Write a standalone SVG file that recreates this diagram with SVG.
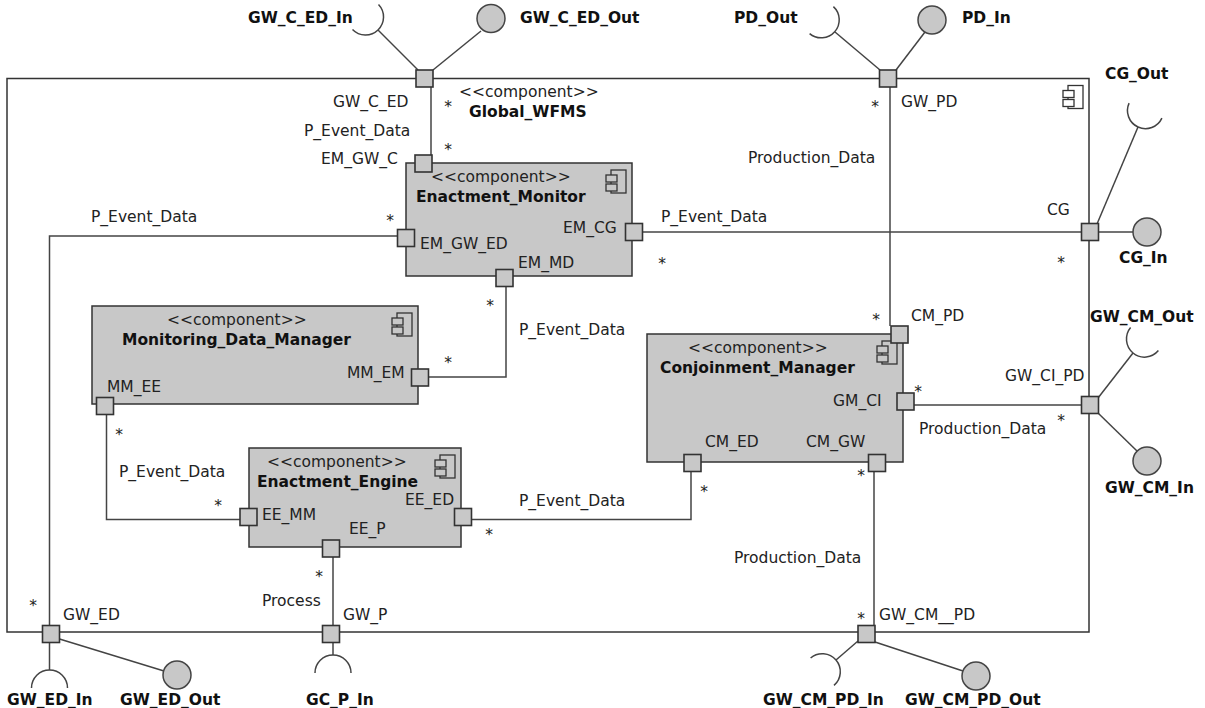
<svg xmlns="http://www.w3.org/2000/svg" width="1205" height="708" viewBox="0 0 1205 708">
<style>
text{font-family:"DejaVu Sans","Liberation Sans",sans-serif;font-size:15.5px;fill:#222}
.b{font-weight:bold;fill:#111}
.m{text-anchor:middle}
.box{fill:#c8c8c8;stroke:#333;stroke-width:1.5}
.outer{fill:#fff;stroke:#333;stroke-width:1.5}
.port{fill:#c8c8c8;stroke:#333;stroke-width:1.6}
.ln{fill:none;stroke:#444;stroke-width:1.5}
.ball{fill:#c8c8c8;stroke:#444;stroke-width:1.5}
.ic{fill:#c8c8c8;stroke:#333;stroke-width:1.3}
.icw{fill:#fff;stroke:#333;stroke-width:1.3}
</style>
<defs>
<g id="icon"><rect x="5" y="0" width="15" height="23"/><rect x="0" y="5" width="11" height="7"/><rect x="0" y="14" width="11" height="7"/></g>
</defs>

<g id="Global_WFMS">
<rect class="outer" x="7" y="78.5" width="1082" height="553.5"/>
<use href="#icon" class="icw" x="1063" y="85.5"/>
<text x="459" y="97">&lt;&lt;component&gt;&gt;</text>
<text class="b" x="469" y="117">Global_WFMS</text>
</g>

<g id="connectors">
<path class="ln" d="M431,87 V155"/>
<path class="ln" d="M890,87 V326"/>
<path class="ln" d="M642,232 H1081.5"/>
<path class="ln" d="M397.5,236 H49.5 V625.5"/>
<path class="ln" d="M506,287 V377 H429"/>
<path class="ln" d="M106.5,414.5 V519.5 H240"/>
<path class="ln" d="M471.5,519.5 H691 V471.5"/>
<path class="ln" d="M333,557 V625.5"/>
<path class="ln" d="M914,405 H1081.5"/>
<path class="ln" d="M874,471.5 V625.5"/>
<path class="ln" d="M418,70 L378,30"/>
<path class="ln" d="M378.5,4.5 A18,18 0 0 1 352.5,29.5"/>
<path class="ln" d="M433,70 L481,31"/>
<path class="ln" d="M880,70 L835,32"/>
<path class="ln" d="M833.4,6.6 A18,18 0 0 1 809.6,33.6"/>
<path class="ln" d="M896,70 L925,32"/>
<path class="ln" d="M1097,224 L1138,127"/>
<path class="ln" d="M1161.9,118.1 A18,18 0 0 1 1129.1,103.1"/>
<path class="ln" d="M1098.5,232 H1133"/>
<path class="ln" d="M1098,398 L1133,353"/>
<path class="ln" d="M1158.4,350.6 A18,18 0 0 1 1130.6,327.6"/>
<path class="ln" d="M1098,413 L1137,451"/>
<path class="ln" d="M49.5,642.5 V670"/>
<path class="ln" d="M67.5,688 A18,18 0 0 0 31.5,688"/>
<path class="ln" d="M59.5,639 L164,671"/>
<path class="ln" d="M333,642.5 V655"/>
<path class="ln" d="M351,673 A18,18 0 0 0 315,673"/>
<path class="ln" d="M858,641 L836,660"/>
<path class="ln" d="M810.6,658 A18,18 0 0 1 834,685.4"/>
<path class="ln" d="M875,642 L963,671"/>
</g>

<g id="Enactment_Monitor">
<rect class="box" x="406" y="163" width="226" height="113"/>
<use href="#icon" class="ic" x="606" y="170"/>
<text x="431" y="182">&lt;&lt;component&gt;&gt;</text>
<text class="b" x="416" y="202">Enactment_Monitor</text>
<rect class="port" x="415" y="155" width="17" height="17"/>
<rect class="port" x="625.5" y="223.5" width="17" height="17"/>
<rect class="port" x="397.5" y="229.5" width="17" height="17"/>
<rect class="port" x="496" y="269.5" width="17" height="17"/>
<text x="563" y="233">EM_CG</text>
<text x="420" y="249">EM_GW_ED</text>
<text x="518" y="268">EM_MD</text>
</g>

<g id="Monitoring_Data_Manager">
<rect class="box" x="92" y="306" width="326" height="98"/>
<use href="#icon" class="ic" x="392" y="313"/>
<text x="167" y="325">&lt;&lt;component&gt;&gt;</text>
<text class="b" x="122" y="345">Monitoring_Data_Manager</text>
<rect class="port" x="96.5" y="397.5" width="17" height="17"/>
<rect class="port" x="411.5" y="369" width="17" height="17"/>
<text x="347" y="378">MM_EM</text>
<text x="107" y="392">MM_EE</text>
</g>

<g id="Enactment_Engine">
<rect class="box" x="249" y="448" width="212" height="99"/>
<use href="#icon" class="ic" x="435" y="455"/>
<text x="267" y="467">&lt;&lt;component&gt;&gt;</text>
<text class="b" x="257" y="487">Enactment_Engine</text>
<rect class="port" x="240" y="508.5" width="17" height="17"/>
<rect class="port" x="454.5" y="508.5" width="17" height="17"/>
<rect class="port" x="322.5" y="540" width="17" height="17"/>
<text x="262" y="520">EE_MM</text>
<text x="405" y="505">EE_ED</text>
<text x="349" y="534">EE_P</text>
</g>

<g id="Conjoinment_Manager">
<rect class="box" x="647" y="334" width="256" height="128"/>
<use href="#icon" class="ic" x="877" y="341"/>
<text x="688" y="353">&lt;&lt;component&gt;&gt;</text>
<text class="b" x="660" y="373">Conjoinment_Manager</text>
<rect class="port" x="891" y="326" width="17" height="17"/>
<rect class="port" x="897" y="393" width="17" height="17"/>
<rect class="port" x="684" y="454.5" width="17" height="17"/>
<rect class="port" x="868.5" y="454.5" width="17" height="17"/>
<text x="833" y="406">GM_CI</text>
<text x="705" y="447">CM_ED</text>
<text x="806" y="447">CM_GW</text>
<text x="911" y="321">CM_PD</text>
</g>

<g id="boundary_ports">
<rect class="port" x="416" y="70" width="17" height="17"/>
<rect class="port" x="879.5" y="70" width="17" height="17"/>
<rect class="port" x="1081.5" y="223.5" width="17" height="17"/>
<rect class="port" x="1081.5" y="396.5" width="17" height="17"/>
<rect class="port" x="42.5" y="625.5" width="17" height="17"/>
<rect class="port" x="322.5" y="625.5" width="17" height="17"/>
<rect class="port" x="858" y="625.5" width="17" height="17"/>
<text x="333" y="107">GW_C_ED</text>
<text x="901" y="107">GW_PD</text>
<text x="1047" y="215">CG</text>
<text x="1005" y="381">GW_CI_PD</text>
<text x="63" y="620">GW_ED</text>
<text x="343" y="620">GW_P</text>
<text x="879" y="620">GW_CM__PD</text>
</g>

<g id="interfaces">
<circle class="ball" cx="491" cy="18.5" r="14"/>
<circle class="ball" cx="932" cy="20" r="14"/>
<circle class="ball" cx="1147" cy="232" r="14"/>
<circle class="ball" cx="1147" cy="461" r="14"/>
<circle class="ball" cx="177" cy="675" r="14"/>
<circle class="ball" cx="976" cy="676" r="14"/>
<text class="b" x="248" y="23">GW_C_ED_In</text>
<text class="b" x="520" y="23">GW_C_ED_Out</text>
<text class="b" x="734" y="23">PD_Out</text>
<text class="b" x="962" y="23">PD_In</text>
<text class="b" x="1105" y="79">CG_Out</text>
<text class="b" x="1119" y="263">CG_In</text>
<text class="b" x="1090" y="322">GW_CM_Out</text>
<text class="b" x="1105" y="493">GW_CM_In</text>
<text class="b" x="7" y="704.5">GW_ED_In</text>
<text class="b" x="120" y="704.5">GW_ED_Out</text>
<text class="b" x="306" y="704.5">GC_P_In</text>
<text class="b" x="763" y="704.5">GW_CM_PD_In</text>
<text class="b" x="905" y="704.5">GW_CM_PD_Out</text>
</g>

<g id="connector_labels">
<text x="304" y="136">P_Event_Data</text>
<text x="321" y="164">EM_GW_C</text>
<text x="91" y="222">P_Event_Data</text>
<text x="661" y="222">P_Event_Data</text>
<text x="748" y="163">Production_Data</text>
<text x="519" y="335">P_Event_Data</text>
<text x="119" y="477">P_Event_Data</text>
<text x="519" y="506">P_Event_Data</text>
<text x="919" y="434">Production_Data</text>
<text x="734" y="563">Production_Data</text>
<text x="262" y="606">Process</text>
<text class="m" x="448" y="112">*</text>
<text class="m" x="448" y="155">*</text>
<text class="m" x="875" y="112">*</text>
<text class="m" x="390" y="226">*</text>
<text class="m" x="662" y="269">*</text>
<text class="m" x="1061" y="268">*</text>
<text class="m" x="490" y="311">*</text>
<text class="m" x="448" y="368">*</text>
<text class="m" x="119" y="440">*</text>
<text class="m" x="218" y="511">*</text>
<text class="m" x="489" y="540">*</text>
<text class="m" x="704" y="497">*</text>
<text class="m" x="319" y="582">*</text>
<text class="m" x="33" y="611">*</text>
<text class="m" x="876" y="325">*</text>
<text class="m" x="918" y="397">*</text>
<text class="m" x="1061" y="426">*</text>
<text class="m" x="861" y="481">*</text>
<text class="m" x="861" y="624">*</text>
</g>
</svg>
